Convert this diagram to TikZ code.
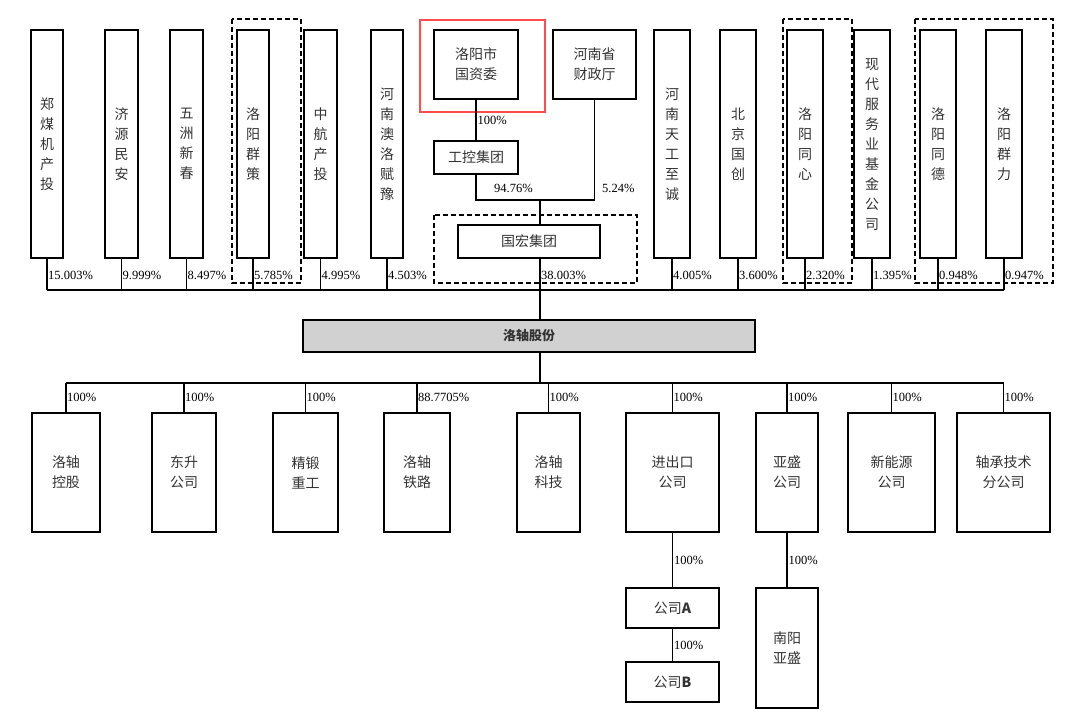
\documentclass[tikz,border=0pt]{standalone}
\usepackage{fontspec}
\setmainfont{Liberation Serif}
\newfontfamily\cjk{Noto Sans CJK SC}
\begin{document}
\begin{tikzpicture}[x=1pt,y=-1pt,
  box/.style={draw,line width=1.1pt,inner sep=0pt,font=\cjk\fontsize{14}{20}\selectfont,align=center,text=black!80},
  pct/.style={font=\fontsize{12.5}{12}\selectfont,anchor=west,inner sep=1pt},
  dsh/.style={draw,line width=1.1pt,dash pattern=on 5pt off 3pt},
  ln/.style={draw,line width=1.1pt}]
\useasboundingbox (0,0) rectangle (1080,715);
\newcommand{\tb}[4]{\node[box,minimum width={#2-#1},minimum height=228] (#3) at ({(#1+#2)/2},144) {#4};}
\tb{31}{63}{t1}{郑\\煤\\机\\产\\投}
\tb{105}{138}{t2}{济\\源\\民\\安}
\tb{170}{203}{t3}{五\\洲\\新\\春}
\tb{237}{269}{t4}{洛\\阳\\群\\策}
\tb{304}{337}{t5}{中\\航\\产\\投}
\tb{371}{403}{t6}{河\\南\\澳\\洛\\赋\\豫}
\tb{654}{690}{t7}{河\\南\\天\\工\\至\\诚}
\tb{720}{756}{t8}{北\\京\\国\\创}
\tb{787}{823}{t9}{洛\\阳\\同\\心}
\tb{854}{890}{t10}{现\\代\\服\\务\\业\\基\\金\\公\\司}
\tb{920}{956}{t11}{洛\\阳\\同\\德}
\tb{986}{1022}{t12}{洛\\阳\\群\\力}
\draw[dsh] (232,19) rectangle (301,283);
\draw[dsh] (783,19) rectangle (852,283);
\draw[dsh] (915,19) rectangle (1053,283);
\draw[dsh] (434,215) rectangle (637,283);
\draw[red!70,line width=2.5pt] (420,20) rectangle (545,112);
\node[box,minimum width=84,minimum height=69] (gzw) at (476,64.5) {洛阳市\\国资委};
\node[box,minimum width=83,minimum height=69] (czt) at (594.5,64.5) {河南省\\财政厅};
\node[box,minimum width=84,minimum height=33] (gk) at (476,157.5) {工控集团};
\node[box,minimum width=142,minimum height=33] (gh) at (529,241.5) {国宏集团};
\node[box,fill=black!18,minimum width=452,minimum height=32,font=\cjk\bfseries\fontsize{13}{15}\selectfont] (lz) at (529,336) {洛轴股份};
\draw[ln] (gzw) -- (gk) node[pct,midway] {100\%};
\draw[ln] (gk.south) |- (540,200) coordinate (j) -- (j |- gh.north);
\draw[ln] (czt.south) |- (j);
\node[pct] at (493,188) {94.76\%};
\node[pct] at (601,188) {5.24\%};
\coordinate (b) at (540,290);
\draw[ln] (j |- gh.south) -- (j |- lz.north);
\node[pct] at (540,275) {38.003\%};
\foreach \n/\p in {t1/15.003,t2/9.999,t3/8.497,t4/5.785,t5/4.995,t6/4.503,t7/4.005,t8/3.600,t9/2.320,t10/1.395,t11/0.948,t12/0.947}{
  \draw[ln] (\n.south) -- (\n.south |- b);
  \node[pct] at ([yshift=-17]\n.south) {\p\%};}
\draw[ln] (t1.south |- b) -- (t12.south |- b);
% bottom
\coordinate (c) at (540,383);
\draw[ln] (j |- lz.south) -- (j |- c);
\newcommand{\bb}[4]{\node[box,minimum width={#2-#1},minimum height=119] (#3) at ({(#1+#2)/2},472.5) {#4};}
\bb{32}{100}{b1}{洛轴\\控股}
\bb{152}{216}{b2}{东升\\公司}
\bb{273}{338}{b3}{精锻\\重工}
\bb{384}{450}{b4}{洛轴\\铁路}
\bb{517}{580}{b5}{洛轴\\科技}
\bb{626}{719}{b6}{进出口\\公司}
\bb{756}{818}{b7}{亚盛\\公司}
\bb{848}{935}{b8}{新能源\\公司}
\bb{957}{1050}{b9}{轴承技术\\分公司}
\foreach \n/\p in {b1/100,b2/100,b3/100,b4/88.7705,b5/100,b6/100,b7/100,b8/100,b9/100}{
  \draw[ln] (\n.north |- c) -- (\n.north);
  \node[pct] at ([yshift=15]\n.north) {\p\%};}
\draw[ln] (b1.north |- c) -- (b9.north |- c);
\node[box,minimum width=93,minimum height=40] (ca) at (672.5,608) {公司\textbf{A}};
\node[box,minimum width=93,minimum height=40] (cb) at (672.5,682) {公司\textbf{B}};
\node[box,minimum width=62,minimum height=120] (ny) at (787,648) {南阳\\亚盛};
\draw[ln] (b6) -- (ca) node[pct,midway] {100\%};
\draw[ln] (ca) -- (cb) node[pct,midway] {100\%};
\draw[ln] (b7) -- (ny) node[pct,midway] {100\%};
\end{tikzpicture}
\end{document}
